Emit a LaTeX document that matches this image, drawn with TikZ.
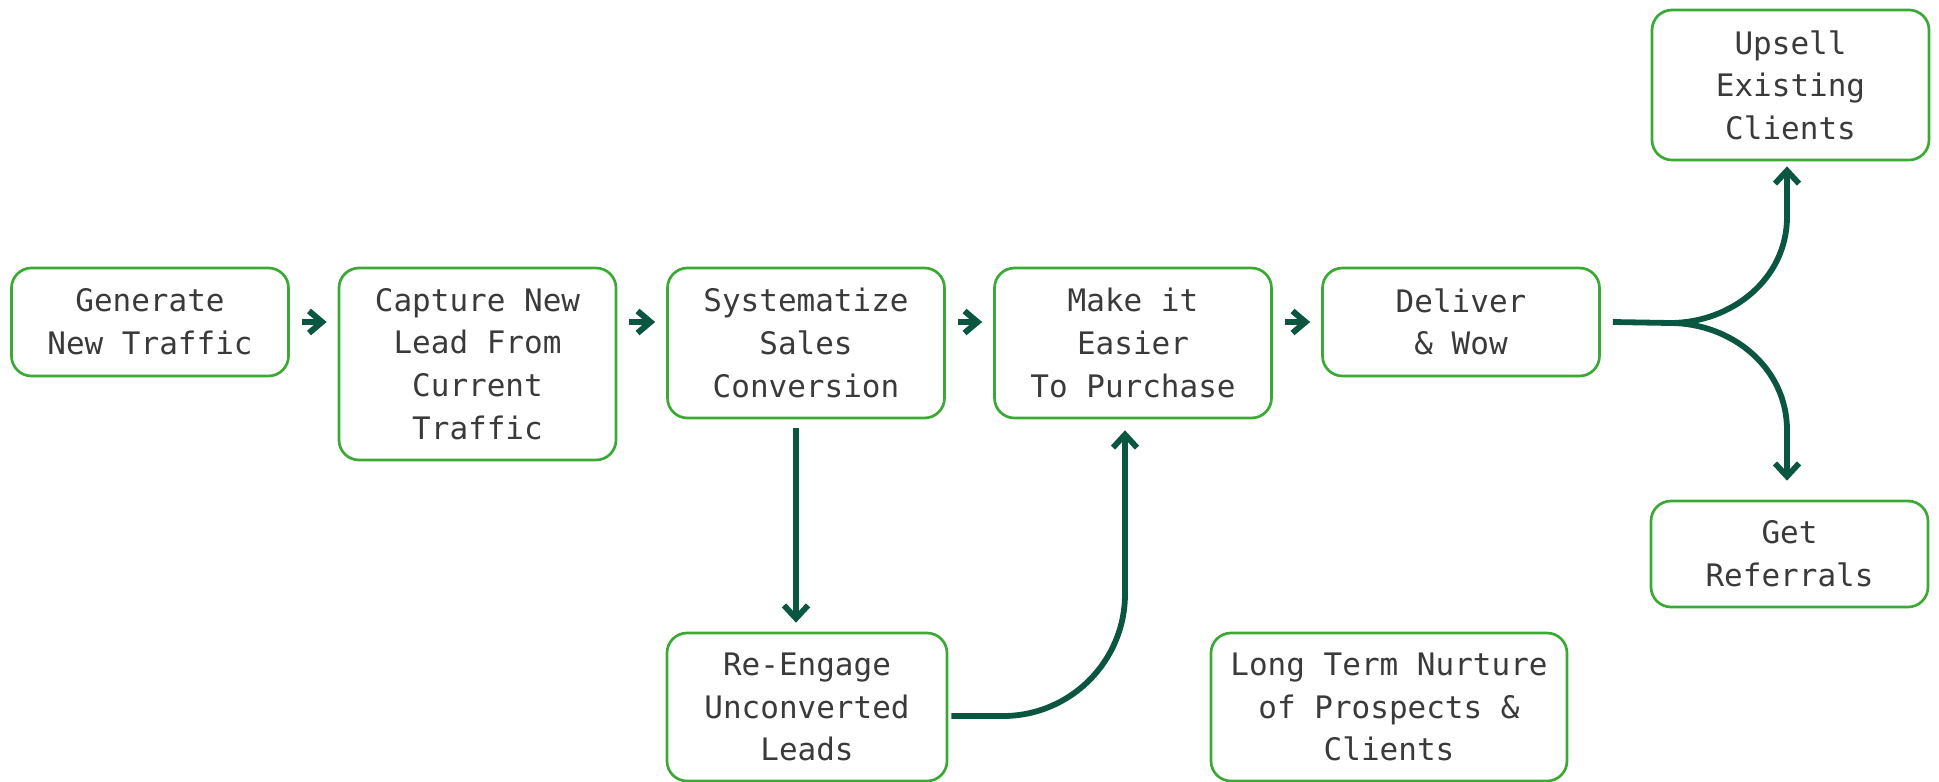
\documentclass[tikz,border=0pt]{standalone}
\usepackage{fontspec}
\usetikzlibrary{arrows.meta}
\newfontfamily\boxfont{DejaVu Sans Mono}
\definecolor{boxgreen}{HTML}{3BAA35}
\definecolor{flowgreen}{HTML}{0A5640}
\definecolor{inkgrey}{HTML}{3A3A3A}
\tikzset{
  stepbox/.style={draw=boxgreen, line width=1.35pt, rounded corners=10pt,
    align=center, text=inkgrey, minimum width=138.5pt, inner sep=0pt,
    font=\boxfont\fontsize{15.5pt}{21.3pt}\selectfont},
  flow/.style={draw=flowgreen, line width=2.9pt,
    -{Straight Barb[length=6.5pt,width=12pt]}},
  hop/.style={draw=flowgreen, line width=3pt,
    -{Straight Barb[length=6.5pt,width=11pt]}, shorten <=6pt, shorten >=5.5pt}
}
\begin{document}
\begin{tikzpicture}[x=0.5pt,y=-0.5pt]
\useasboundingbox (0,0) rectangle (1939,782);

% main row
\node[stepbox, minimum height=54pt] (gen) at (150,322) {Generate\\New Traffic};
\node[stepbox, minimum height=96pt] (cap) at (477.5,364) {Capture New\\Lead From\\Current\\Traffic};
\node[stepbox, minimum height=75pt] (sys) at (806,343) {Systematize\\Sales\\Conversion};
\node[stepbox, minimum height=75pt] (buy) at (1133,343) {Make it\\Easier\\To Purchase};
\node[stepbox, minimum height=54pt] (del) at (1461,322) {Deliver\\\& Wow};

% right branch
\node[stepbox, minimum height=75pt] (ups) at (1790.5,85) {Upsell\\Existing\\Clients};
\node[stepbox, minimum height=53pt] (ref) at (1789.5,554) {Get\\Referrals};

% lower row
\node[stepbox, minimum height=74pt, minimum width=140pt] (reen) at (807,707) {Re-Engage\\Unconverted\\Leads};
\node[stepbox, minimum height=74pt, minimum width=178pt] (nur) at (1389,707) {Long Term Nurture\\of Prospects \&\\Clients};

% short hops along the row
\draw[hop] (gen.east) -- (cap.west |- gen);
\draw[hop] (cap.east |- gen) -- (sys.west |- gen);
\draw[hop] (sys.east |- gen) -- (buy.west |- gen);
\draw[hop] (buy.east |- gen) -- (del.west |- gen);

% down to re-engagement
\coordinate (dx) at (796,0);
\draw[flow, shorten <=4.5pt, shorten >=4.5pt] (dx |- sys.south) -- (dx |- reen.north);

% re-engagement back up to purchase
\coordinate (ux) at (1125,0);
\coordinate (bend) at (1003,716);
\draw[flow, shorten >=5.5pt] ([xshift=1.5pt,yshift=-4.5pt]reen.east) -- (bend)
  arc[start angle=90, end angle=0, radius=122] -- (ux |- buy.south);

% fork after delivery
\coordinate (fx) at (1787,0);
\coordinate (fork) at (1670,323);
\draw[flow, shorten >=2.5pt] ([xshift=6pt]del.east) -- (fork)
  to[out=0,in=-90] (1787,217) -- (fx |- ups.south);
\draw[flow, shorten >=9.5pt] (fork)
  to[out=0,in=90] (1787,430) -- (fx |- ref.north);
\end{tikzpicture}
\end{document}
